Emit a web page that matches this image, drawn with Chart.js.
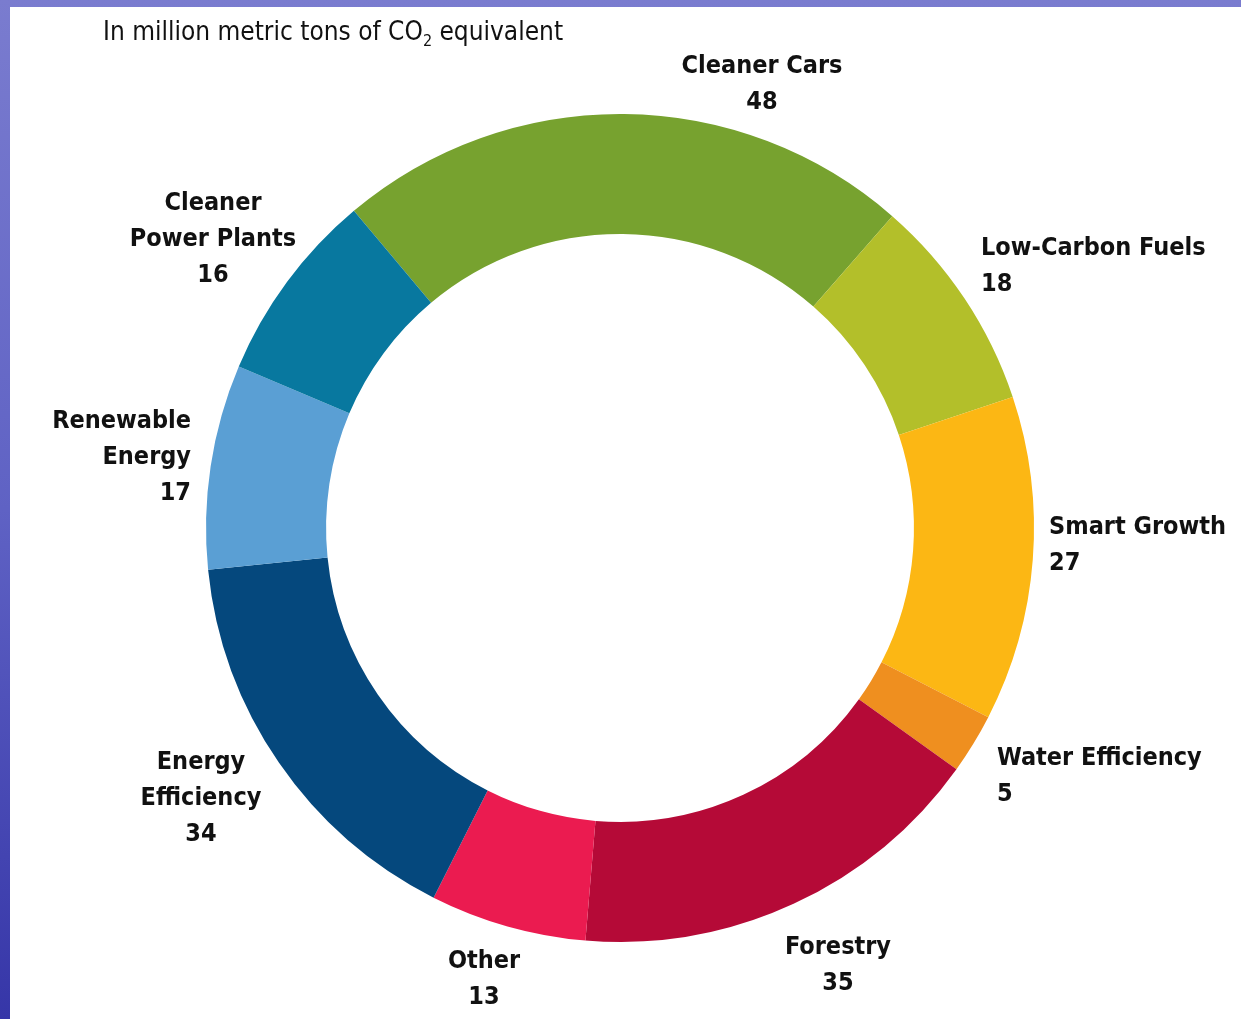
<!DOCTYPE html>
<html>
<head>
<meta charset="utf-8">
<script src="https://cdn.jsdelivr.net/npm/chart.js@4/dist/chart.umd.min.js"></script>
<style>
  html, body { margin: 0; padding: 0; }
  body {
    width: 1241px; height: 1019px; overflow: hidden; position: relative;
    background: linear-gradient(180deg, #7a7ccf 0%, #5f62c4 50%, #3636a8 100%);
  }
  #panel {
    position: absolute; left: 10px; top: 7px; right: 0; bottom: 0;
    background: #ffffff;
  }
  #chartWrap { position: absolute; left: 10px; top: 7px; width: 1231px; height: 1012px; }
  .lbl {
    position: absolute;
    font-family: "Liberation Sans Narrow", "DejaVu Sans Condensed", "Roboto", sans-serif;
    font-weight: bold; font-size: 25px; line-height: 36px; color: #111;
    white-space: nowrap;
  }
  #title {
    position: absolute; left: 103px; top: 16px;
    font-family: "Liberation Sans Narrow", "DejaVu Sans Condensed", sans-serif;
    font-size: 26px; color: #111; white-space: nowrap;
  }
  #title sub { font-size: 16px; vertical-align: -6px; line-height: 0; }
</style>
</head>
<body>
<div id="panel"></div>
<div id="chartWrap"><canvas id="ring" width="1231" height="1012"></canvas></div>
<div id="title">In million metric tons of CO<sub>2</sub> equivalent</div>
<script>
// In million metric tons of CO2 equivalent
const categories = ["Cleaner Cars", "Low-Carbon Fuels", "Smart Growth", "Water Efficiency",
  "Forestry", "Other", "Energy Efficiency", "Renewable Energy", "Cleaner Power Plants"];
const values = [48, 18, 27, 5, 35, 13, 34, 17, 16];
const colors = ["#77a22f", "#b3bf2a", "#fcb714", "#ef8f1f", "#b50a37",
  "#eb1b50", "#05487d", "#5a9fd4", "#08789f"];

// how each label is broken into lines, and where it sits (page px: x, first line middle, align)
const labelLines = [["Cleaner Cars"], ["Low-Carbon Fuels"], ["Smart Growth"], ["Water Efficiency"],
  ["Forestry"], ["Other"], ["Energy", "Efficiency"], ["Renewable", "Energy"], ["Cleaner", "Power Plants"]];
const labelSpots = [
  [762, 65, "center"], [981, 247, "left"], [1049, 526, "left"], [997, 757, "left"],
  [838, 946, "center"], [484, 960, "center"], [201, 761, "center"], [191, 420, "right"], [213, 202, "center"]
];

const ctx = document.getElementById("ring").getContext("2d");
new Chart(ctx, {
  type: "doughnut",
  data: {
    labels: categories,
    datasets: [{
      data: values,
      backgroundColor: colors,
      borderWidth: 0
    }]
  },
  options: {
    responsive: false,
    maintainAspectRatio: false,
    animation: false,
    rotation: -40,
    cutout: "71%",
    layout: { padding: { left: 196, right: 207, top: 107, bottom: 77 } },
    plugins: { legend: { display: false }, tooltip: { enabled: false } }
  }
});

categories.forEach((name, i) => {
  const [x, y, align] = labelSpots[i];
  const div = document.createElement("div");
  div.className = "lbl";
  div.style.top = (y - 18) + "px";
  div.style.textAlign = align;
  if (align === "center") { div.style.left = x + "px"; div.style.transform = "translateX(-50%)"; }
  else if (align === "left") { div.style.left = x + "px"; }
  else { div.style.right = (1241 - x) + "px"; }
  div.innerHTML = labelLines[i].concat(String(values[i])).join("<br>");
  document.body.appendChild(div);
});
</script>
</body>
</html>
